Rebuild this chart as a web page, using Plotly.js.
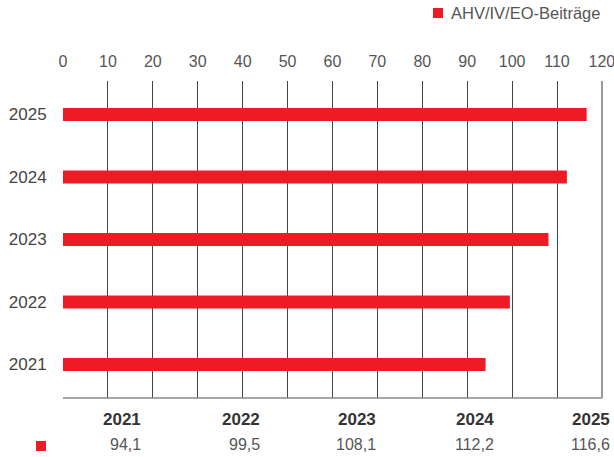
<!DOCTYPE html>
<html><head><meta charset="utf-8">
<script src="https://cdn.plot.ly/plotly-3.0.1.min.js"></script>
<style>html,body{margin:0;padding:0;background:#fff}#chart{width:614px;height:457px}</style>
</head><body><div id="chart"></div>
<script>
const years = ['2021', '2022', '2023', '2024', '2025'];
const values = [94.1, 99.5, 108.1, 112.2, 116.6];
const seriesName = 'AHV/IV/EO-Beiträge';
const xTicks = [0, 10, 20, 30, 40, 50, 60, 70, 80, 90, 100, 110, 120];
const tableColumnX = [143, 262, 378, 496, 612];

const RED = '#ED1C24';
const FONT = 'Liberation Sans, Arial, sans-serif';
const W = 614, H = 457;
const M = {l: 63, r: 12, t: 81, b: 59};
const px2paper = x => (x - M.l) / (W - M.l - M.r);
const py2paper = y => (H - M.b - y) / (H - M.t - M.b);

const fmt = v => v.toFixed(1).replace('.', ',');

const annotations = [];
years.forEach((yr, i) => {
  annotations.push({xref: 'paper', yref: 'paper', x: px2paper(tableColumnX[i]), y: py2paper(419),
    xanchor: 'right', yanchor: 'middle', text: '<b>' + yr + '</b>', showarrow: false,
    font: {family: FONT, size: 17, color: '#333'}});
  annotations.push({xref: 'paper', yref: 'paper', x: px2paper(tableColumnX[i]), y: py2paper(444),
    xanchor: 'right', yanchor: 'middle', text: fmt(values[i]), showarrow: false,
    font: {family: FONT, size: 16, color: '#555'}});
});
annotations.push({xref: 'paper', yref: 'paper', x: px2paper(449), y: py2paper(13),
  xanchor: 'left', yanchor: 'middle', text: seriesName, showarrow: false,
  font: {family: FONT, size: 16.5, color: '#555'}});

const shapes = [
  {type: 'rect', xref: 'paper', yref: 'paper', x0: px2paper(433), x1: px2paper(443),
   y0: py2paper(18), y1: py2paper(8), fillcolor: RED, line: {width: 0}},
  {type: 'rect', xref: 'paper', yref: 'paper', x0: px2paper(36), x1: px2paper(46),
   y0: py2paper(451), y1: py2paper(441), fillcolor: RED, line: {width: 0}},
  {type: 'line', xref: 'paper', yref: 'paper', x0: 0, x1: 1, y0: 0, y1: 0,
   line: {color: '#888', width: 1.5}},
  {type: 'line', xref: 'paper', yref: 'paper', x0: 1, x1: 1, y0: 0, y1: 1,
   line: {color: '#999', width: 2}}
];

const trace = {
  type: 'bar', orientation: 'h', y: years, x: values, name: seriesName,
  marker: {color: RED}, width: 0.21, hoverinfo: 'none'
};

const layout = {
  width: W, height: H, margin: M, paper_bgcolor: '#fff', plot_bgcolor: '#fff',
  showlegend: false,
  xaxis: {side: 'top', range: [0, 120.02], tickvals: xTicks, ticktext: xTicks.map(String),
    showgrid: true, gridcolor: '#444', gridwidth: 1, zeroline: false, showline: false,
    ticks: '', ticklabelstandoff: 10, ticklabeloverflow: 'allow',
    tickfont: {family: FONT, size: 16, color: '#555'}, fixedrange: true},
  yaxis: {type: 'category', categoryorder: 'array', categoryarray: years, range: [-0.536, 4.536],
    showgrid: false, zeroline: false, showline: false, ticks: 'outside', ticklen: 12, tickcolor: 'rgba(0,0,0,0)',
    tickfont: {family: FONT, size: 17, color: '#444'}, fixedrange: true},
  annotations: annotations, shapes: shapes
};

Plotly.newPlot('chart', [trace], layout, {displayModeBar: false, staticPlot: true});
</script></body></html>
